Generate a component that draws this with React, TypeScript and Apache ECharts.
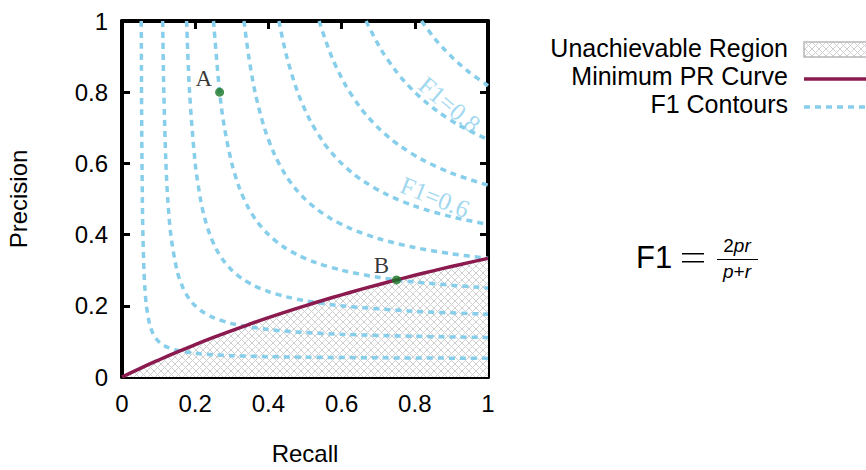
import React, { useEffect, useRef } from "react";
import * as echarts from "echarts";

// Minimum PR curve (recall, precision)
const minPRCurve: [number, number][] = [
  [0, 0], [0.05, 0.0244], [0.1, 0.0476], [0.15, 0.0698], [0.2, 0.0909], [0.25, 0.1111],
  [0.3, 0.1304], [0.35, 0.1489], [0.4, 0.1667], [0.45, 0.1837], [0.5, 0.2], [0.55, 0.2157],
  [0.6, 0.2308], [0.65, 0.2453], [0.7, 0.2593], [0.75, 0.2727], [0.8, 0.2857], [0.85, 0.2982],
  [0.9, 0.3103], [0.95, 0.322], [1, 0.3333],
];

// F1 contours (recall, precision)
const f1_01: [number, number][] = [
  [0.0526, 1], [0.0539, 0.7], [0.0556, 0.5], [0.0571, 0.4], [0.06, 0.3], [0.0625, 0.25], [0.0667, 0.2],
  [0.075, 0.15], [0.0833, 0.125], [0.0917, 0.11], [0.1, 0.1], [0.11, 0.0917], [0.125, 0.0833], [0.15, 0.075],
  [0.2, 0.0667], [0.25, 0.0625], [0.3, 0.06], [0.4, 0.0571], [0.5, 0.0556], [0.7, 0.0539], [1, 0.0526],
];
const f1_02: [number, number][] = [
  [0.1111, 1], [0.1143, 0.8], [0.12, 0.6], [0.125, 0.5], [0.1333, 0.4], [0.15, 0.3], [0.1667, 0.25],
  [0.1833, 0.22], [0.2, 0.2], [0.22, 0.1833], [0.25, 0.1667], [0.3, 0.15], [0.4, 0.1333], [0.5, 0.125],
  [0.6, 0.12], [0.8, 0.1143], [1, 0.1111],
];
const f1_03: [number, number][] = [
  [0.1765, 1], [0.1846, 0.8], [0.2, 0.6], [0.2143, 0.5], [0.225, 0.45], [0.24, 0.4], [0.2571, 0.36],
  [0.275, 0.33], [0.3, 0.3], [0.33, 0.275], [0.36, 0.2571], [0.4, 0.24], [0.45, 0.225], [0.5, 0.2143],
  [0.6, 0.2], [0.8, 0.1846], [1, 0.1765],
];
const f1_04: [number, number][] = [
  [0.25, 1], [0.2667, 0.8], [0.28, 0.7], [0.3, 0.6], [0.3212, 0.53], [0.3429, 0.48], [0.3667, 0.44],
  [0.4, 0.4], [0.44, 0.3667], [0.48, 0.3429], [0.53, 0.3212], [0.6, 0.3], [0.7, 0.28], [0.8, 0.2667], [1, 0.25],
];
const f1_05: [number, number][] = [
  [0.3333, 1], [0.3462, 0.9], [0.3636, 0.8], [0.3889, 0.7], [0.4167, 0.625], [0.4453, 0.57], [0.4732, 0.53],
  [0.5, 0.5], [0.53, 0.4732], [0.57, 0.4453], [0.625, 0.4167], [0.7, 0.3889], [0.8, 0.3636], [0.9, 0.3462], [1, 0.3333],
];
const f1_06: [number, number][] = [
  [0.4286, 1], [0.45, 0.9], [0.48, 0.8], [0.5143, 0.72], [0.55, 0.66], [0.5727, 0.63], [0.6, 0.6],
  [0.63, 0.5727], [0.66, 0.55], [0.72, 0.5143], [0.8, 0.48], [0.9, 0.45], [1, 0.4286],
];
const f1_07: [number, number][] = [
  [0.5385, 1], [0.5727, 0.9], [0.6106, 0.82], [0.6488, 0.76], [0.6724, 0.73], [0.7, 0.7],
  [0.73, 0.6724], [0.76, 0.6488], [0.82, 0.6106], [0.9, 0.5727], [1, 0.5385],
];
const f1_08: [number, number][] = [
  [0.6667, 1], [0.7077, 0.92], [0.7478, 0.86], [0.7721, 0.83], [0.8, 0.8],
  [0.83, 0.7721], [0.86, 0.7478], [0.92, 0.7077], [1, 0.6667],
];
const f1_09: [number, number][] = [
  [0.8182, 1], [0.855, 0.95], [0.8809, 0.92], [0.9, 0.9], [0.92, 0.8809], [0.95, 0.855], [1, 0.8182],
];
const contours = [f1_01, f1_02, f1_03, f1_04, f1_05, f1_06, f1_07, f1_08, f1_09];

// Marked points
const pointNames = ["A", "B"];
const pointValues: [number, number][] = [[0.2667, 0.8], [0.75, 0.2727]];

// Contour labels
const contourLabels = ["F1=0.8", "F1=0.6"];
const contourLabelAnchors: [number, number][] = [[0.895, 0.765], [0.855, 0.505]];
const contourLabelAngles = [-40, -22];

const axisTicks = [0, 0.2, 0.4, 0.6, 0.8, 1];

const SANS = "'Liberation Sans', Arial, Helvetica, sans-serif";
const SERIF = "'Liberation Serif', 'Times New Roman', serif";
const BLUE = "#87ceeb";
const MAROON = "#8b1a4f";

function makeHatch(): string {
  const s = 7;
  const c = document.createElement("canvas");
  c.width = s;
  c.height = s;
  const ctx = c.getContext("2d")!;
  ctx.fillStyle = "#ffffff";
  ctx.fillRect(0, 0, s, s);
  ctx.strokeStyle = "#cfcfcf";
  ctx.lineWidth = 1;
  ctx.beginPath();
  ctx.moveTo(-1, -1);
  ctx.lineTo(s + 1, s + 1);
  ctx.moveTo(s + 1, -1);
  ctx.lineTo(-1, s + 1);
  ctx.stroke();
  return c.toDataURL();
}

export default function App() {
  const ref = useRef<HTMLDivElement>(null);
  useEffect(() => {
    if (!ref.current) return;
    const chart = echarts.init(ref.current, null, { renderer: "svg" });
    const hatch = makeHatch();
    const axisLine = { show: true, onZero: false, lineStyle: { color: "#000", width: 4 } };
    const axisTick = { show: true, inside: true, length: 8, lineStyle: { color: "#000", width: 3 } };
    const axisLabel = { fontSize: 24, color: "#000", fontFamily: SANS };
    const base = {
      type: "value" as const,
      min: axisTicks[0],
      max: axisTicks[axisTicks.length - 1],
      interval: axisTicks[1] - axisTicks[0],
      splitLine: { show: false },
    };
    const series: any[] = [];
    series.push({
      type: "line",
      data: minPRCurve,
      symbol: "none",
      lineStyle: { width: 0, opacity: 0 },
      areaStyle: { color: { image: hatch, repeat: "repeat" }, opacity: 1 },
      z: 1,
      silent: true,
    });
    contours.forEach((c) => {
      series.push({
        type: "line",
        data: c,
        symbol: "none",
        smooth: 0.3,
        lineStyle: { color: BLUE, width: 3.5, type: [6, 5] },
        z: 2,
        silent: true,
      });
    });
    series.push({
      type: "line",
      data: minPRCurve,
      symbol: "none",
      smooth: true,
      lineStyle: { color: MAROON, width: 3.5 },
      z: 3,
      silent: true,
    });
    contourLabels.forEach((t, i) => {
      series.push({
        type: "scatter",
        data: [contourLabelAnchors[i]],
        symbolSize: 0,
        z: 4,
        label: {
          show: true,
          position: "inside",
          formatter: t,
          rotate: contourLabelAngles[i],
          color: BLUE,
          fontFamily: SERIF,
          fontSize: 25,
        },
        silent: true,
      });
    });
    series.push({
      type: "scatter",
      data: pointValues.map((v, i) => ({ value: v, name: pointNames[i] })),
      symbol: "circle",
      symbolSize: 9,
      itemStyle: { color: "#157526" },
      z: 5,
      label: {
        show: true,
        position: "left",
        distance: 3,
        offset: [0, -14],
        formatter: "{b}",
        color: "#000",
        fontFamily: SERIF,
        fontSize: 23,
      },
      silent: true,
    });

    chart.setOption({
      animation: false,
      backgroundColor: "#fff",
      grid: { left: 122, top: 21, width: 366, height: 366 },
      xAxis: [
        {
          ...base,
          position: "bottom",
          axisLine,
          axisTick,
          axisLabel: { ...axisLabel, margin: 14 },
          name: "Recall",
          nameLocation: "middle",
          nameGap: 64,
          nameTextStyle: { fontSize: 24, color: "#000", fontFamily: SANS },
        },
        { ...base, position: "top", axisLine, axisTick, axisLabel: { show: false } },
      ],
      yAxis: [
        {
          ...base,
          position: "left",
          axisLine,
          axisTick,
          axisLabel: { ...axisLabel, margin: 14 },
          name: "Precision",
          nameLocation: "middle",
          nameGap: 92,
          nameTextStyle: { fontSize: 24, color: "#000", fontFamily: SANS },
        },
        { ...base, position: "right", axisLine, axisTick, axisLabel: { show: false } },
      ],
      series,
      graphic: [
        { type: "text", right: 866 - 788, top: 35, style: { text: "Unachievable Region", fontSize: 25, fontFamily: SANS, fill: "#000" } },
        { type: "text", right: 866 - 788, top: 63, style: { text: "Minimum PR Curve", fontSize: 25, fontFamily: SANS, fill: "#000" } },
        { type: "text", right: 866 - 788, top: 91, style: { text: "F1 Contours", fontSize: 25, fontFamily: SANS, fill: "#000" } },
        { type: "rect", shape: { x: 804, y: 42, width: 70, height: 15 }, style: { fill: { image: hatch, repeat: "repeat" } as any, stroke: "#b8b8b8", lineWidth: 1.5 } },
        { type: "line", shape: { x1: 804, y1: 79, x2: 866, y2: 79 }, style: { stroke: MAROON, lineWidth: 3.5 } },
        { type: "line", shape: { x1: 804, y1: 107, x2: 866, y2: 107 }, style: { stroke: BLUE, lineWidth: 3.5, lineDash: [6, 5] } },
        { type: "text", x: 636, y: 257, style: { text: "F1", fontSize: 31, fontFamily: SANS, fill: "#000", verticalAlign: "middle" } },
        { type: "rect", shape: { x: 682, y: 253, width: 22, height: 1.5 }, style: { fill: "#000" } },
        { type: "rect", shape: { x: 682, y: 261, width: 22, height: 1.5 }, style: { fill: "#000" } },
        {
          type: "text", x: 737, y: 255,
          style: {
            text: "{n|2}{i|pr}", align: "center", verticalAlign: "bottom", fill: "#000",
            rich: { n: { fontSize: 19, fontFamily: SANS }, i: { fontSize: 19, fontFamily: SANS, fontStyle: "italic" } },
          } as any,
        },
        { type: "line", shape: { x1: 717, y1: 259.5, x2: 758, y2: 259.5 }, style: { stroke: "#000", lineWidth: 1.2 } },
        {
          type: "text", x: 737, y: 262,
          style: {
            text: "{i|p}{n|+}{i|r}", align: "center", verticalAlign: "top", fill: "#000",
            rich: { n: { fontSize: 19, fontFamily: SANS }, i: { fontSize: 19, fontFamily: SANS, fontStyle: "italic" } },
          } as any,
        },
      ],
    });
    return () => chart.dispose();
  }, []);
  return <div ref={ref} style={{ width: 866, height: 470, position: "absolute", left: 0, top: 0 }} />;
}
